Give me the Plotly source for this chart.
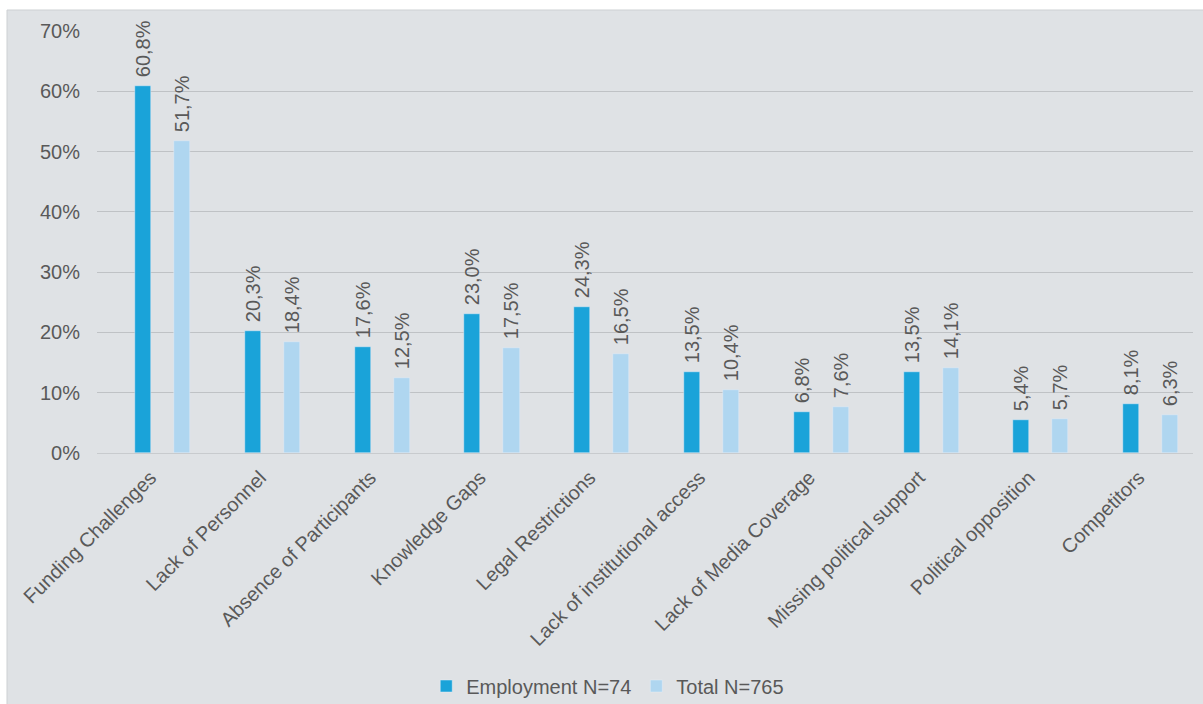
import plotly.graph_objects as go

categories = ["Funding Challenges", "Lack of Personnel", "Absence of Participants",
              "Knowledge Gaps", "Legal Restrictions", "Lack of institutional access",
              "Lack of Media Coverage", "Missing political support",
              "Political opposition", "Competitors"]
employment = [60.8, 20.3, 17.6, 23.0, 24.3, 13.5, 6.8, 13.5, 5.4, 8.1]
total = [51.7, 18.4, 12.5, 17.5, 16.5, 10.4, 7.6, 14.1, 5.7, 6.3]
series_names = ["Employment N=74", "Total N=765"]
y_ticks = [0, 10, 20, 30, 40, 50, 60, 70]

def fmt(v):
    # leading no-break space gives the label a little more room above the bar
    return "\u00a0" + f"{v:.1f}%".replace(".", ",")

FONT = "Liberation Sans, Arial, sans-serif"
TXT = "#595959"
BG = "#DFE2E5"
FS = 20

x = list(range(len(categories)))
fig = go.Figure()
fig.add_trace(go.Bar(
    x=x, y=employment, name=series_names[0], marker_color="#1AA3D9",
    width=0.146, offset=-0.251,
    text=[fmt(v) for v in employment], textposition="outside", textangle=-90,
    constraintext="none", cliponaxis=False,
    textfont=dict(family=FONT, size=FS, color=TXT),
))
fig.add_trace(go.Bar(
    x=x, y=total, name=series_names[1], marker_color="#AFD6F0",
    width=0.146, offset=0.105,
    text=[fmt(v) for v in total], textposition="outside", textangle=-90,
    constraintext="none", cliponaxis=False,
    textfont=dict(family=FONT, size=FS, color=TXT),
))

fig.add_shape(type="rect", xref="paper", yref="paper",
              x0=(7 - 97) / 1096, x1=(1210 - 97) / 1096,
              y0=(453 - 710) / 422, y1=(453 - 10) / 422,
              fillcolor=BG, line=dict(color="#CDD0D3", width=1), layer="below")

fig.update_layout(
    width=1203, height=704,
    margin=dict(l=97, r=10, t=31, b=251, autoexpand=False),
    paper_bgcolor="white", plot_bgcolor=BG,
    font=dict(family=FONT, size=FS, color=TXT),
    showlegend=True,
    legend=dict(orientation="h", x=0.466, xanchor="center", y=(453 - 686) / 422,
                yanchor="middle", font=dict(family=FONT, size=FS, color=TXT),
                bgcolor="rgba(0,0,0,0)", itemwidth=30),
    xaxis=dict(tickmode="array", tickvals=x, ticktext=categories, tickangle=-45,
               range=[-0.597, 9.385], showgrid=False, zeroline=False,
               showline=False, ticks="", automargin=False,
               ticklabelshift=-12, ticklabelstandoff=8,
               tickfont=dict(family=FONT, size=FS, color=TXT)),
    yaxis=dict(range=[0, 70], tickmode="array", tickvals=y_ticks,
               ticktext=[f"{v}%" for v in y_ticks],
               showgrid=True, gridcolor="#BFC2C5", gridwidth=1,
               zeroline=True, zerolinecolor="#C8CBCE", zerolinewidth=1,
               showline=False, ticks="", ticklabelstandoff=16, automargin=False,
               tickfont=dict(family=FONT, size=FS, color=TXT)),
    bargap=0,
)

fig.write_html("out.html")
